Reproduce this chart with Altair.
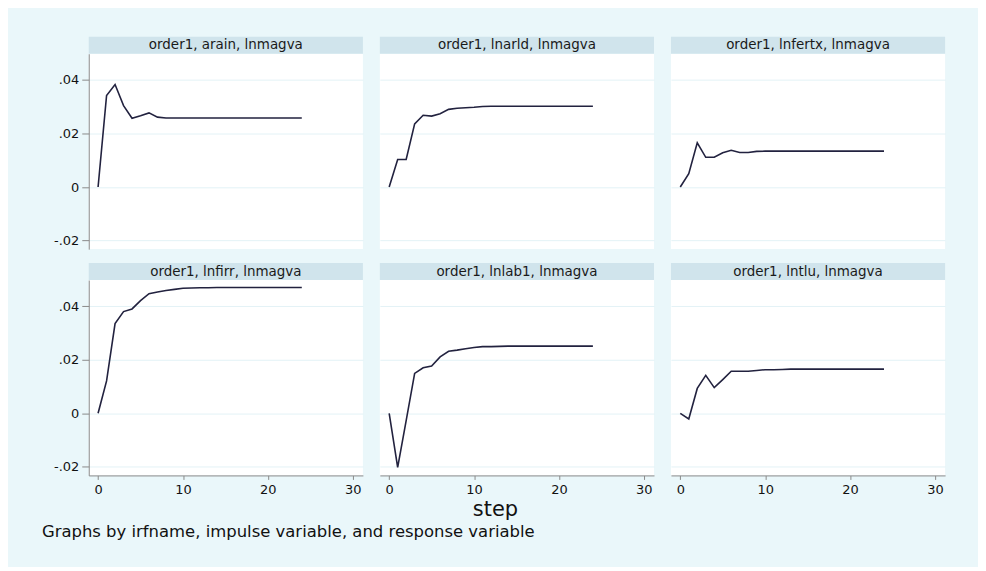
import altair as alt
import pandas as pd

# ---- data ----
steps = list(range(25))

titles = [
    "order1, arain, lnmagva",
    "order1, lnarld, lnmagva",
    "order1, lnfertx, lnmagva",
    "order1, lnfirr, lnmagva",
    "order1, lnlab1, lnmagva",
    "order1, lntlu, lnmagva",
]

arain = [0.0, 0.0342, 0.0383, 0.0304, 0.0257, 0.0266, 0.0277, 0.0261, 0.0258, 0.0258,
         0.0258, 0.0258, 0.0258, 0.0258, 0.0258, 0.0258, 0.0258, 0.0258, 0.0258, 0.0258,
         0.0258, 0.0258, 0.0258, 0.0258, 0.0258]
lnarld = [0.0, 0.0103, 0.0103, 0.0236, 0.0268, 0.0265, 0.0274, 0.0290, 0.0294, 0.0296,
          0.0298, 0.0301, 0.0302, 0.0302, 0.0302, 0.0302, 0.0302, 0.0302, 0.0302, 0.0302,
          0.0302, 0.0302, 0.0302, 0.0302, 0.0302]
lnfertx = [0.0, 0.0050, 0.0165, 0.0111, 0.0111, 0.0128, 0.0137, 0.0129, 0.0129, 0.0133,
           0.0134, 0.0134, 0.0134, 0.0134, 0.0134, 0.0134, 0.0134, 0.0134, 0.0134, 0.0134,
           0.0134, 0.0134, 0.0134, 0.0134, 0.0134]
lnfirr = [0.0, 0.0121, 0.0335, 0.0380, 0.0390, 0.0421, 0.0447, 0.0453, 0.0459, 0.0463,
          0.0467, 0.0468, 0.0469, 0.0469, 0.0470, 0.0470, 0.0470, 0.0470, 0.0470, 0.0470,
          0.0470, 0.0470, 0.0470, 0.0470, 0.0470]
lnlab1 = [0.0, -0.0202, -0.0027, 0.0149, 0.0170, 0.0177, 0.0211, 0.0232, 0.0236, 0.0241,
          0.0246, 0.0249, 0.0249, 0.0250, 0.0251, 0.0251, 0.0251, 0.0251, 0.0251, 0.0251,
          0.0251, 0.0251, 0.0251, 0.0251, 0.0251]
lntlu = [0.0, -0.0021, 0.0093, 0.0142, 0.0096, 0.0126, 0.0157, 0.0157, 0.0157, 0.0160,
         0.0163, 0.0163, 0.0164, 0.0165, 0.0165, 0.0165, 0.0165, 0.0165, 0.0165, 0.0165,
         0.0165, 0.0165, 0.0165, 0.0165, 0.0165]

series = [arain, lnarld, lnfertx, lnfirr, lnlab1, lntlu]

xticks = [0, 10, 20, 30]
yticks = [-0.02, 0, 0.02, 0.04]
ytick_labels = ["-.02", "0", ".02", ".04"]

x_title = "step"
note = "Graphs by irfname, impulse variable, and response variable"

# ---- style ----
BG = "#eaf7fa"
STRIP = "#d0e4ec"
GRID = "#e3f2f6"
LINE = "#22223f"
AXIS = "#8a8a8a"
FONT = "DejaVu Sans"
W, H = 275, 196
XDOM = [-1.1, 31.2]
YDOM = [-0.0232, 0.0498]

label_expr = " : ".join(
    f"datum.value == {v} ? '{l}'" for v, l in zip(yticks, ytick_labels)
) + " : ''"


def panel(i, col, row):
    df = pd.DataFrame({"step": steps, "irf": series[i]})
    if row == 1:
        xaxis = alt.Axis(values=xticks, grid=False, tickSize=4, labelPadding=4,
                         labelFlush=False, title=None, format="d")
    else:
        xaxis = None
    if col == 0:
        yaxis = alt.Axis(values=yticks, grid=True, tickSize=7, labelPadding=3,
                         labelExpr=label_expr, title=None)
    else:
        yaxis = alt.Axis(values=yticks, grid=True, labels=False, ticks=False,
                         domain=False, title=None)
    line = alt.Chart(df).mark_line(color=LINE, strokeWidth=1.6).encode(
        x=alt.X("step:Q", scale=alt.Scale(domain=XDOM, nice=False, zero=False), axis=xaxis),
        y=alt.Y("irf:Q", scale=alt.Scale(domain=YDOM, nice=False, zero=False), axis=yaxis),
    )
    hdr = alt.Chart(pd.DataFrame({"t": [titles[i]]}))
    strip = hdr.mark_rect(color=STRIP).encode(
        x=alt.value(0), x2=alt.value(W), y=alt.value(-17), y2=alt.value(0)
    )
    text = hdr.mark_text(font=FONT, fontSize=13.5, color="#1a1a1a", baseline="middle").encode(
        x=alt.value(W / 2), y=alt.value(-8.5), text="t:N"
    )
    layers = [line, strip, text]
    if row == 1 and col == 0:
        fd = alt.Chart(pd.DataFrame({"t": [x_title]}))
        fn = alt.Chart(pd.DataFrame({"t": [note]}))
        layers.append(fd.mark_text(font=FONT, fontSize=21, color="#111", baseline="middle").encode(
            x=alt.value(408), y=alt.value(H + 35), text="t:N"))
        layers.append(fn.mark_text(font=FONT, fontSize=16.5, color="#111", align="left",
                                   baseline="middle").encode(
            x=alt.value(-47), y=alt.value(H + 57), text="t:N"))
    return alt.layer(*layers).properties(width=W, height=H)


panels = [panel(r * 3 + c, c, r) for r in range(2) for c in range(3)]

chart = alt.concat(*panels, columns=3, spacing={"row": 31, "column": 17}, bounds="flush").properties(
    padding={"left": 34, "top": 28, "right": 33, "bottom": 25},
    background=BG,
).configure_view(
    fill="white", strokeWidth=0
).configure_axis(
    labelFont=FONT, labelFontSize=13, labelColor="#111",
    domainColor=AXIS, tickColor=AXIS, gridColor=GRID, gridWidth=1,
)

chart.save("out.html", embed_options={"renderer": "svg", "actions": False})
